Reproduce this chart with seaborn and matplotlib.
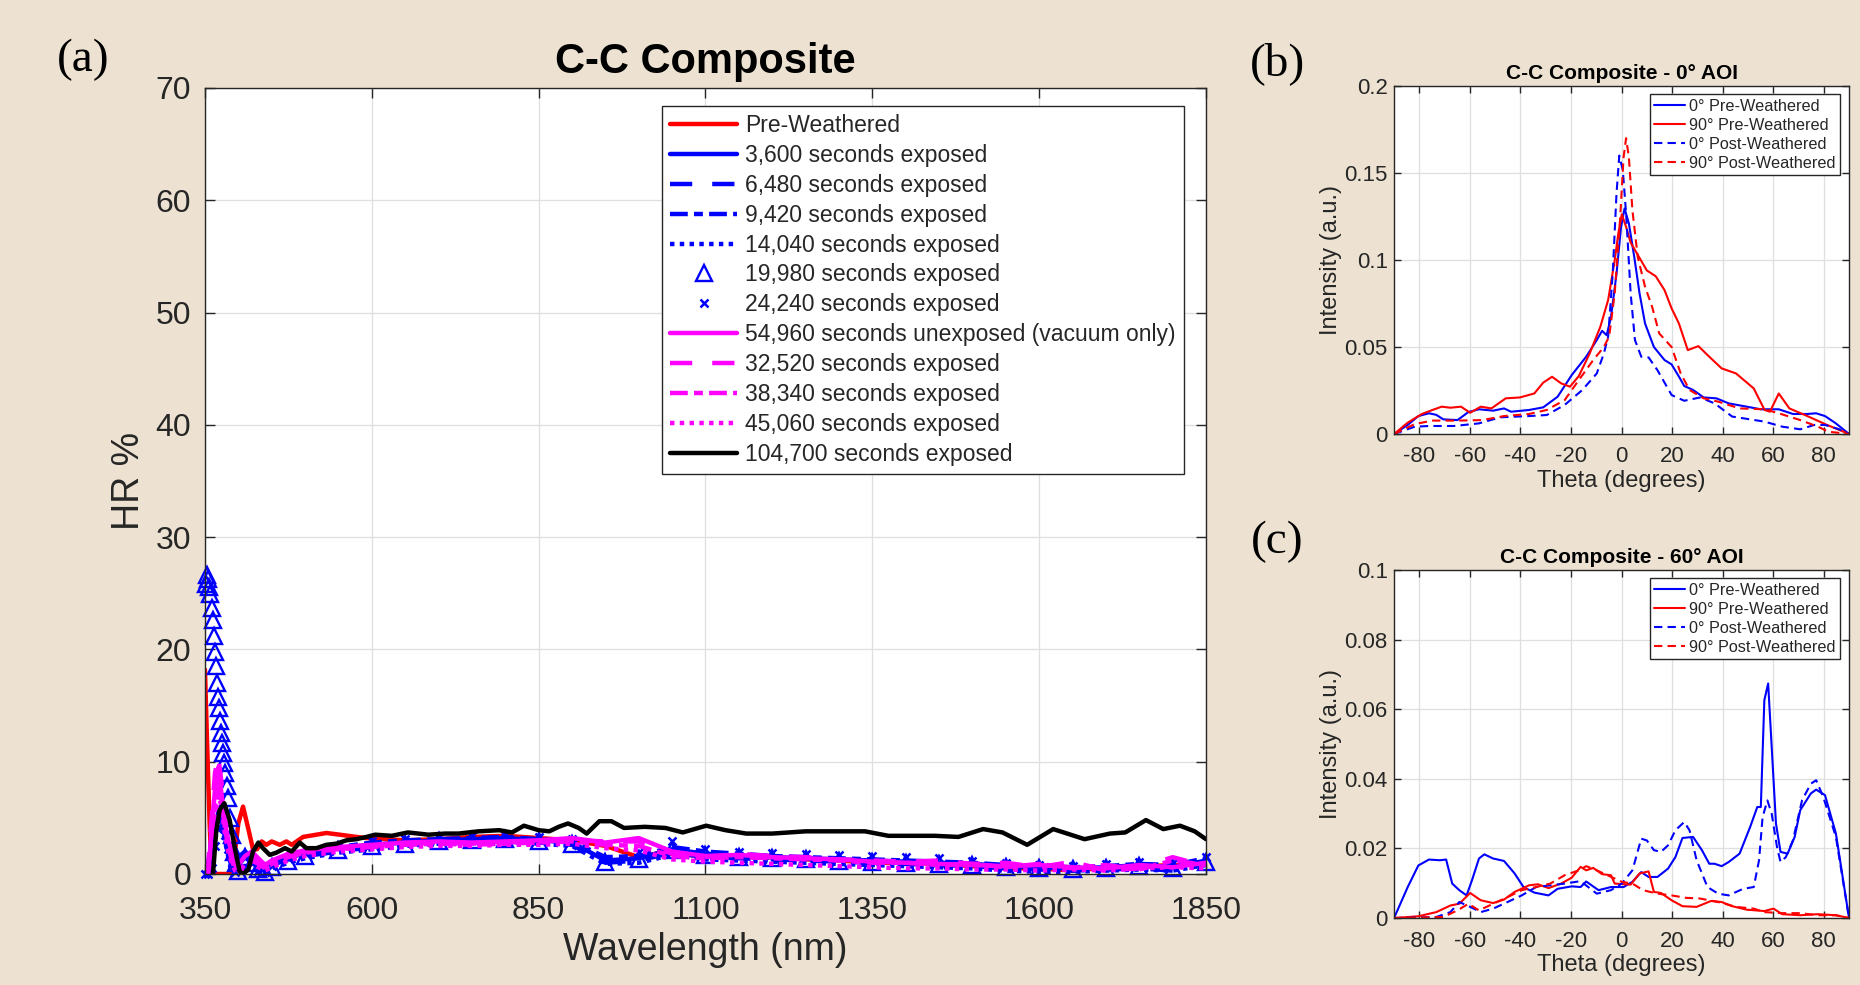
import matplotlib
matplotlib.use("Agg")
import matplotlib.pyplot as plt
from matplotlib.ticker import FuncFormatter
import seaborn as sns

# -------------------------
# (a) HR % vs wavelength
# -------------------------

wl_grid = [350, 355, 360, 365, 370, 375, 380, 385, 390, 395, 400,
           410, 420, 430, 440, 450, 475, 500,
           550, 600, 650, 700, 750, 800, 850, 900, 950, 1000, 1050, 1100, 1150,
           1200, 1250, 1300, 1350, 1400, 1450, 1500, 1550, 1600, 1650, 1700,
           1750, 1800, 1850]

red_wl = [350, 353, 357, 360, 390, 395, 400, 407, 415, 422, 428, 435, 442, 450,
          462, 472, 480, 497, 507, 532, 552, 577, 592, 650, 700, 750, 800, 850,
          900, 950, 1000, 1033, 1050, 1100, 1150, 1200, 1250, 1300, 1350, 1400,
          1450, 1500, 1550, 1600, 1650, 1687, 1750, 1814, 1850]
red_hr = [18.2, 12.0, 4.5, 0, 0, 2.0, 4.5, 6.0, 4.0, 2.2, 2.2, 2.9, 2.6, 2.9,
          2.6, 2.9, 2.6, 3.3, 3.4, 3.65, 3.5, 3.3, 3.2, 3.0, 3.1, 3.3, 3.4, 3.2,
          3.0, 2.5, 1.5, 1.9, 1.8, 1.6, 1.5, 1.5, 1.3, 1.2, 1.0, 1.0,
          0.9, 0.7, 0.5, 0.5, 0.3, 0.5, 0.7, 0.8, 1.0]

hr_3600 = [0, 0, 1.5, 4.0, 5.5, 5.0, 3.8, 2.5, 1.0, 0.5, 1.5,
           2.0, 1.5, 0.8, 0.6, 1.0, 1.5, 1.8,
           2.3, 2.6, 2.8, 3.0, 3.1, 3.2, 3.0, 2.8, 1.2, 1.4, 2.2, 1.8, 1.6,
           1.5, 1.4, 1.3, 1.2, 1.1, 1.0, 0.9, 0.7, 0.6, 0.5, 0.6, 0.8, 0.6, 1.2]
hr_6480 = [0, 0.5, 2.5, 4.5, 5.0, 4.0, 3.0, 1.8, 0.6, 0.2, 1.0,
           1.6, 1.2, 0.5, 0.3, 0.8, 1.3, 1.6,
           2.0, 2.4, 2.6, 2.8, 2.9, 3.0, 2.8, 2.6, 1.0, 1.2, 1.9, 1.5, 1.4,
           1.3, 1.2, 1.1, 1.0, 0.9, 0.8, 0.7, 0.5, 0.4, 0.3, 0.4, 0.5, 0.3, 0.9]
hr_9420 = [0, 1.0, 3.0, 5.0, 5.5, 4.5, 3.3, 2.0, 0.8, 0.3, 1.2,
           1.8, 1.4, 0.7, 0.5, 1.0, 1.6, 2.0,
           2.4, 2.8, 3.0, 3.1, 3.2, 3.3, 3.1, 2.9, 1.5, 1.6, 2.4, 2.0, 1.8,
           1.6, 1.5, 1.4, 1.3, 1.2, 1.1, 1.0, 0.8, 0.7, 0.6, 0.7, 0.9, 0.8, 1.4]
hr_14040 = [0, 0, 1.0, 3.0, 4.5, 4.2, 3.0, 1.5, 0.3, 0, 0.5,
            1.0, 0.6, 0.2, 0.1, 0.5, 1.0, 1.4,
            1.9, 2.2, 2.5, 2.7, 2.8, 2.9, 2.7, 2.5, 0.9, 1.0, 1.7, 1.3, 1.2,
            1.1, 1.0, 0.9, 0.8, 0.7, 0.6, 0.5, 0.3, 0.2, 0.2, 0.3, 0.4, 0.3, 0.8]

tri_wl = [351, 352.5, 354, 355.5, 357.5, 360, 361.5, 363.5, 364.5, 366,
          367.5, 369.5, 371.5, 372.5, 374, 375.5, 377.5, 379, 380.5, 382.5,
          384.5, 387, 390, 393, 396,
          400, 410, 420, 430, 440, 450, 475, 500,
          550, 600, 650, 700, 750, 800, 850, 900, 950, 1000, 1050, 1100, 1150,
          1200, 1250, 1300, 1350, 1400, 1450, 1500, 1550, 1600, 1650, 1700,
          1750, 1800, 1850]
hr_19980 = [25.8, 26.6, 26.3, 25.6, 24.9, 23.7, 22.6, 21.2, 19.8, 18.5,
            17.0, 15.8, 14.8, 13.6, 12.6, 11.7, 10.8, 9.9, 9.0, 7.8,
            6.8, 5.0, 3.5, 2.0, 1.0,
            0.3, 1.5, 1.0, 0.4, 0.2, 0.6, 1.2, 1.6,
            2.1, 2.5, 2.7, 2.9, 3.0, 3.1, 2.9, 2.7, 1.1, 1.3, 2.1, 1.7, 1.5,
            1.4, 1.3, 1.2, 1.1, 1.0, 0.9, 0.8, 0.6, 0.5, 0.4, 0.5, 0.7, 0.5, 1.1]

hr_24240 = [0, 0, 0.5, 2.5, 4.0, 4.5, 3.5, 2.2, 1.0, 0.2, 0.8,
            1.4, 1.0, 0.3, 0.2, 0.7, 1.4, 1.9,
            2.5, 2.9, 3.1, 3.3, 3.4, 3.5, 3.3, 3.1, 1.3, 2.0, 2.9, 2.2, 2.0,
            1.9, 1.8, 1.7, 1.6, 1.5, 1.4, 1.2, 1.0, 0.8, 0.7, 0.9, 1.1, 1.0, 1.5]

hr_54960 = [0, 0, 4.0, 7.5, 9.5, 7.0, 4.5, 3.0, 2.0, 1.2, 0.8,
            1.6, 2.0, 1.4, 0.8, 1.2, 1.8, 2.1,
            2.4, 2.6, 2.8, 2.9, 2.8, 2.9, 3.0, 3.2, 2.8, 3.2, 2.0, 1.6, 1.7,
            1.5, 1.4, 1.3, 1.1, 1.0, 0.9, 0.8, 0.7, 0.8, 0.6, 0.5, 0.8, 0.6, 1.0]
hr_32520 = [0, 1.0, 5.0, 9.0, 10.5, 8.0, 5.0, 3.2, 1.8, 0.8, 0.4,
            1.0, 1.6, 1.2, 0.6, 1.0, 1.7, 2.0,
            2.3, 2.5, 2.7, 2.8, 2.7, 2.8, 2.9, 3.0, 2.9, 2.9, 1.8, 1.5, 1.8,
            1.6, 1.5, 1.3, 1.2, 1.1, 1.2, 0.9, 1.0, 0.6, 1.1, 0.3, 0.5, 1.5, 0.7]
hr_38340 = [0, 0.5, 3.0, 6.0, 8.0, 6.5, 4.0, 2.5, 1.2, 0.5, 0.3,
            0.8, 1.2, 0.9, 0.5, 0.9, 1.5, 1.9,
            2.2, 2.4, 2.6, 2.7, 2.6, 2.7, 2.8, 2.9, 2.6, 2.5, 1.6, 1.4, 1.5,
            1.4, 1.3, 1.2, 1.0, 1.0, 0.8, 0.9, 0.6, 0.9, 0.5, 0.8, 0.4, 1.2, 0.8]
hr_45060 = [0, 0, 2.0, 5.0, 7.0, 6.0, 3.5, 2.0, 1.0, 0.3, 0.1,
            0.5, 0.9, 0.6, 0.3, 0.6, 1.2, 1.6,
            2.0, 2.2, 2.4, 2.5, 2.5, 2.6, 2.6, 2.7, 2.3, 2.1, 1.3, 1.1, 1.0,
            0.9, 0.8, 0.7, 0.6, 0.5, 0.5, 0.4, 0.4, 0.3, 0.4, 0.3, 0.5, 0.6, 0.5]

blk_wl = [362, 367, 372, 379, 387, 395, 402, 407, 415, 422,
          430, 437, 447, 457, 470, 480, 492, 502, 517, 532,
          547, 562, 577, 592, 605, 630, 654, 685, 710, 730,
          760, 791, 810, 828, 850, 866, 880, 894, 910, 922,
          941, 959, 978, 1009, 1040, 1066, 1101, 1130, 1161, 1200,
          1250, 1300, 1339, 1374, 1410, 1444, 1479, 1516, 1545, 1582,
          1621, 1668, 1706, 1729, 1760, 1786, 1811, 1833, 1850]
hr_104700 = [0, 3.9, 5.7, 6.3, 4.8, 2.2, 0.2, 0, 0.4, 2.0,
             2.8, 2.3, 1.7, 1.9, 2.3, 2.0, 2.8, 2.3, 2.3, 2.6,
             2.7, 3.0, 3.1, 3.3, 3.5, 3.4, 3.7, 3.5, 3.6, 3.6,
             3.8, 3.9, 3.7, 4.3, 3.9, 3.8, 4.2, 4.5, 4.1, 3.6,
             4.7, 4.7, 4.1, 4.2, 4.1, 3.7, 4.3, 3.9, 3.6, 3.6,
             3.8, 3.8, 3.8, 3.4, 3.4, 3.4, 3.3, 4.0, 3.7, 2.6,
             4.0, 3.1, 3.6, 3.7, 4.8, 4.0, 4.3, 3.8, 3.1]

# -------------------------
# (b) 0 deg AOI scatter
# -------------------------

b_pre0_th = [-90, -84.6, -80.4, -76.2, -73.3, -70.5, -64.9, -60.6, -56.4, -50.8,
             -46.5, -43.7, -36.6, -31.0, -25.3, -19.7, -14.0, -9.8, -7.7, -5.9,
             -4.2, -2.0, -0.2, 1.2, 2.9, 5.0, 7.1, 9.3, 12.8, 17.0,
             19.8, 22.7, 24.8, 28.3, 32.5, 37.5, 42.4, 49.5, 55.1, 62.2,
             67.8, 73.5, 77.0, 80.5, 84.8, 90]
b_pre0_i = [0, .0052, .0103, .0119, .011, .0084, .008, .0126, .0142, .0134,
            .0147, .0128, .0138, .0153, .0214, .0339, .0444, .054, .0593, .0568,
            .067, .092, .119, .1296, .121, .102, .081, .0635, .050, .0425,
            .040, .033, .0276, .0253, .021, .0205, .0176, .0157, .0142, .0142,
            .0115, .0115, .0119, .0103, .0061, 0]

b_pre90_th = [-90, -84.6, -79.0, -74.8, -71.2, -67.7, -63.5, -59.9, -55.7, -51.5,
              -45.8, -40.2, -34.5, -31.0, -27.5, -23.9, -20.4, -16.9, -12.6, -8.4,
              -5.3, -2.7, -1.3, 0.1, 1.8, 3.6, 6.4, 10.0, 13.5, 17.0,
              19.8, 22.7, 26.2, 30.4, 34.7, 39.6, 45.3, 52.3, 56.6, 58.7,
              62.2, 66.4, 73.5, 80.5, 90]
b_pre90_i = [0, .0065, .0115, .0138, .0157, .0151, .0157, .0122, .0157, .0147,
             .0205, .021, .0233, .0295, .0329, .0291, .0272, .0333, .0463, .0616,
             .077, .0999, .115, .1263, .119, .110, .103, .094, .0907, .0827,
             .0722, .0635, .0482, .0505, .0444, .0377, .0348, .0262, .0138, .0128,
             .0233, .0147, .0103, .0057, 0]

b_post0_th = [-90, -81.8, -76.2, -66.3, -56.4, -47.9, -36.6, -29.6, -22.5, -15.5,
              -9.8, -7.0, -5.3, -3.5, -2.0, -0.9, 0.5, 1.8, 3.6, 5.3,
              7.8, 10.7, 14.2, 19.8, 24.8, 31.1, 36.8, 43.8, 50.9, 56.6,
              63.6, 70.7, 76.3, 80.5, 86.2, 90]
b_post0_i = [0, .0042, .0046, .0046, .0061, .0096, .0103, .0109, .0167, .0253,
             .0348, .0463, .0559, .0922, .138, .160, .1516, .1267, .0808, .054,
             .0444, .044, .0367, .0224, .0191, .021, .0176, .010, .0084, .0071,
             .0042, .0027, .0052, .0052, .0027, 0]

b_post90_th = [-90, -81.8, -74.8, -64.9, -55.0, -46.5, -36.6, -29.6, -22.5, -16.9,
               -11.2, -7.0, -4.9, -2.7, -0.6, 0.8, 1.8, 2.9, 4.3, 6.4,
               9.3, 12.1, 14.9, 19.8, 23.4, 26.9, 32.5, 38.2, 46.7, 56.6,
               62.2, 70.7, 77.7, 81.9, 90]
b_post90_i = [0, .0057, .0077, .0077, .008, .0103, .0115, .0138, .0195, .031,
              .0425, .050, .056, .081, .123, .159, .170, .159, .1286, .1018,
              .0846, .0731, .0578, .050, .0348, .0253, .0205, .0186, .0147, .0142,
              .0119, .008, .0042, .0013, 0]

# -------------------------
# (c) 60 deg AOI scatter
# -------------------------

c_pre0_th = [-90, -84.6, -80.4, -76.2, -71.9, -69.4, -67.0, -64.2, -61.3, -59.2,
             -56.4, -54.3, -50.8, -46.5, -42.3, -38.8, -34.5, -28.9, -25.3, -19.7,
             -16.2, -14.0, -9.1, -4.2, 0.8, 4.3, 7.8, 10.7, 14.2, 18.4,
             21.3, 24.1, 28.3, 31.8, 34.7, 36.8, 39.6, 42.4, 46.7, 50.9,
             53.7, 55.1, 56.5, 58.0, 59.4, 61.1, 62.9, 65.7, 68.5, 70.7,
             74.9, 77.0, 80.5, 84.8, 90]
c_pre0_i = [0, .0089, .0151, .0168, .0166, .0168, .0099, .008, .0065, .0108,
            .0171, .0183, .0171, .0164, .0128, .0089, .0073, .0065, .0084, .0091,
            .0089, .0105, .008, .0089, .0089, .0104, .0132, .0118, .0118, .0142,
            .0175, .023, .0233, .0195, .0156, .0156, .0149, .0161, .0185, .0262,
            .0319, .0319, .0626, .0674, .0492, .0271, .019, .0185, .0233, .031,
            .0358, .0369, .0353, .0243, 0]

c_pre90_th = [-90, -80.4, -73.3, -67.7, -64.2, -59.9, -55.7, -50.8, -46.5, -42.3,
              -36.6, -33.1, -28.9, -23.9, -19.7, -16.2, -14.0, -11.2, -7.7, -4.2,
              -2.7, 3.6, 7.1, 10.7, 12.8, 15.6, 19.8, 24.1, 29.7, 35.4,
              39.6, 43.8, 49.5, 56.5, 60.1, 63.6, 70.7, 77.7, 84.8, 90]
c_pre90_i = [0, .0005, .0017, .0036, .0041, .0072, .0051, .0043, .0053, .0075,
             .0094, .0097, .0086, .0099, .0116, .0147, .0137, .0144, .0126, .0123,
             .0099, .0096, .0128, .0134, .0075, .0072, .0051, .0034, .0032, .0049,
             .0046, .0034, .0024, .002, .0027, .0011, .0008, .0011, .0008, 0]

c_post0_th = [-90, -73.3, -67.7, -64.2, -59.9, -55.7, -50.8, -45.1, -39.5, -33.8,
              -28.2, -22.5, -16.2, -9.8, -4.2, 0.1, 4.3, 7.8, 10.0, 12.8,
              15.6, 18.4, 21.3, 24.8, 26.9, 29.7, 34.0, 38.2, 42.4, 48.1,
              52.3, 54.4, 55.8, 57.7, 59.4, 61.5, 62.9, 65.0, 67.8, 71.4,
              74.9, 77.0, 79.8, 84.8, 90]
c_post0_i = [0, .0003, .0017, .0046, .0032, .0017, .0027, .0046, .0065, .0089,
             .0094, .0099, .0106, .007, .008, .0099, .0137, .0228, .0223, .0195,
             .019, .0209, .0252, .0276, .0252, .0166, .0089, .007, .0065, .0084,
             .0089, .0166, .029, .0338, .03, .0204, .0161, .0175, .0223, .0338,
             .0386, .0396, .0348, .0233, 0]

c_post90_th = [-90, -70.5, -64.9, -60.6, -56.4, -50.8, -45.1, -39.5, -33.8, -28.2,
               -22.5, -16.9, -14.0, -9.8, -5.6, 0.1, 4.3, 8.5, 14.2, 19.8,
               25.5, 31.1, 38.2, 45.3, 52.3, 56.5, 63.6, 70.7, 77.7, 84.8, 90]
c_post90_i = [0, .0003, .0022, .0041, .0022, .0041, .006, .008, .0089, .0099,
              .0123, .0137, .0149, .0137, .0123, .0104, .0099, .008, .007, .0065,
              .0058, .0056, .0046, .0032, .0027, .0017, .0014, .0014, .0008, .0008, 0]

scatter_labels = ["0\u00b0 Pre-Weathered", "90\u00b0 Pre-Weathered",
                  "0\u00b0 Post-Weathered", "90\u00b0 Post-Weathered"]

# -------------------------
# style
# -------------------------

BG = "#EDE2D1"
AX_COL = "#262626"

sns.set_theme(style="whitegrid")
plt.rcParams["font.family"] = ["Liberation Sans", "DejaVu Sans"]
plt.rcParams["axes.unicode_minus"] = False
plt.rcParams["legend.numpoints"] = 1

DASH = (0, (5, 4.5))
DASHDOT = (0, (4, 1.4, 2, 1.4))
DOT = (0, (1.0, 1.2))


def line(ax, x, y, **kw):
    sns.lineplot(x=x, y=y, ax=ax, estimator=None, errorbar=None, sort=False, **kw)


def style_axis(ax, tsize, tlen, xpad, ypad):
    ax.set_facecolor("white")
    ax.grid(True, color="#DFDFDF", lw=0.9)
    ax.set_axisbelow(True)
    for s in ax.spines.values():
        s.set_visible(True)
        s.set_color(AX_COL)
        s.set_linewidth(1.0)
    ax.tick_params(direction="in", top=True, right=True, bottom=True, left=True,
                   length=tlen, width=1, colors=AX_COL, labelsize=tsize)
    ax.tick_params(axis="x", pad=xpad)
    ax.tick_params(axis="y", pad=ypad)


fig = plt.figure(figsize=(18.6, 9.85), dpi=100, facecolor=BG)

ax_a = fig.add_axes([0.1102, 0.1127, 0.5382, 0.798])
ax_b = fig.add_axes([0.7495, 0.5594, 0.2446, 0.3533])
ax_c = fig.add_axes([0.7495, 0.068, 0.2446, 0.3533])

# -------------------------
# panel (a)
# -------------------------

LW = 3.2
line(ax_a, red_wl, red_hr, color="red", lw=LW, label="Pre-Weathered")
line(ax_a, wl_grid, hr_3600, color="blue", lw=LW, label="3,600 seconds exposed")
line(ax_a, wl_grid, hr_6480, color="blue", lw=LW, linestyle=DASH,
     label="6,480 seconds exposed")
line(ax_a, wl_grid, hr_9420, color="blue", lw=LW, linestyle=DASHDOT,
     label="9,420 seconds exposed")
line(ax_a, wl_grid, hr_14040, color="blue", lw=LW, linestyle=DOT,
     label="14,040 seconds exposed")
line(ax_a, tri_wl, hr_19980, color="blue", linestyle="none", marker="^",
     markersize=11, markerfacecolor="none", markeredgecolor="blue",
     markeredgewidth=1.7, clip_on=False, label="19,980 seconds exposed")
line(ax_a, wl_grid, hr_24240, color="blue", linestyle="none", marker="x",
     markersize=6, markeredgecolor="blue", markeredgewidth=1.8,
     clip_on=False, label="24,240 seconds exposed")
line(ax_a, wl_grid, hr_54960, color="magenta", lw=LW,
     label="54,960 seconds unexposed (vacuum only)")
line(ax_a, wl_grid, hr_32520, color="magenta", lw=LW, linestyle=DASH,
     label="32,520 seconds exposed")
line(ax_a, wl_grid, hr_38340, color="magenta", lw=LW, linestyle=DASHDOT,
     label="38,340 seconds exposed")
line(ax_a, wl_grid, hr_45060, color="magenta", lw=LW, linestyle=DOT,
     label="45,060 seconds exposed")
line(ax_a, blk_wl, hr_104700, color="black", lw=LW, label="104,700 seconds exposed")

style_axis(ax_a, 23, 7, 16, 10)
ax_a.set_xlim(350, 1850)
ax_a.set_ylim(0, 70)
ax_a.set_xticks(range(350, 1851, 250))
ax_a.set_yticks(range(0, 71, 10))
ax_a.set_title("C-C Composite", fontsize=30, fontweight="bold", color="black", pad=11)
ax_a.set_xlabel("Wavelength (nm)", fontsize=27, color=AX_COL)
ax_a.set_ylabel("HR %", fontsize=27, color=AX_COL)
ax_a.xaxis.set_label_coords(0.5, -0.074)
ax_a.yaxis.set_label_coords(-0.058, 0.5)

leg = ax_a.legend(loc="upper right", bbox_to_anchor=(0.978, 0.977), borderaxespad=0,
                  fontsize=16.5, handlelength=2.95, handletextpad=0.35,
                  labelspacing=0.30, borderpad=0.35, fancybox=False,
                  framealpha=1, edgecolor=AX_COL)
leg.get_frame().set_linewidth(1.0)

# -------------------------
# panels (b) and (c)
# -------------------------

SDASH = (0, (4, 2.5))


def scatter_panel(ax, series, ymax, ystep, title):
    styles = [("blue", "-"), ("red", "-"), ("blue", SDASH), ("red", SDASH)]
    for (th, it), (col, ls), lab in zip(series, styles, scatter_labels):
        line(ax, th, it, color=col, lw=1.5, linestyle=ls, label=lab)
    style_axis(ax, 16, 5, 9, 4.5)
    ax.set_xlim(-90, 90)
    ax.set_ylim(0, ymax)
    ax.set_xticks(range(-80, 81, 20))
    ax.set_yticks([k * ystep for k in range(int(round(ymax / ystep)) + 1)])
    ax.yaxis.set_major_formatter(FuncFormatter(lambda v, p: f"{v:g}"))
    ax.set_title(title, fontsize=15, fontweight="bold", color="black", pad=5)
    ax.set_xlabel("Theta (degrees)", fontsize=17, color=AX_COL)
    ax.set_ylabel("Intensity (a.u.)", fontsize=17, color=AX_COL)
    ax.xaxis.set_label_coords(0.5, -0.103)
    ax.yaxis.set_label_coords(-0.115, 0.5)
    lg = ax.legend(loc="upper right", bbox_to_anchor=(0.980, 0.977), borderaxespad=0,
                   fontsize=11.7, handlelength=1.9, handletextpad=0.2,
                   labelspacing=0.24, borderpad=0.3, fancybox=False,
                   framealpha=1, edgecolor=AX_COL)
    lg.get_frame().set_linewidth(1.0)


scatter_panel(ax_b,
              [(b_pre0_th, b_pre0_i), (b_pre90_th, b_pre90_i),
               (b_post0_th, b_post0_i), (b_post90_th, b_post90_i)],
              0.2, 0.05, "C-C Composite - 0\u00b0 AOI")
scatter_panel(ax_c,
              [(c_pre0_th, c_pre0_i), (c_pre90_th, c_pre90_i),
               (c_post0_th, c_post0_i), (c_post90_th, c_post90_i)],
              0.1, 0.02, "C-C Composite - 60\u00b0 AOI")

# panel letters
for lx, ly, txt in [(0.0446, 0.939, "(a)"), (0.6866, 0.935, "(b)"), (0.6866, 0.450, "(c)")]:
    fig.text(lx, ly, txt, fontsize=34, family=["Liberation Serif", "DejaVu Serif"],
             ha="center", va="center", color="black")

fig.savefig("out.png", dpi=100, facecolor=BG)
